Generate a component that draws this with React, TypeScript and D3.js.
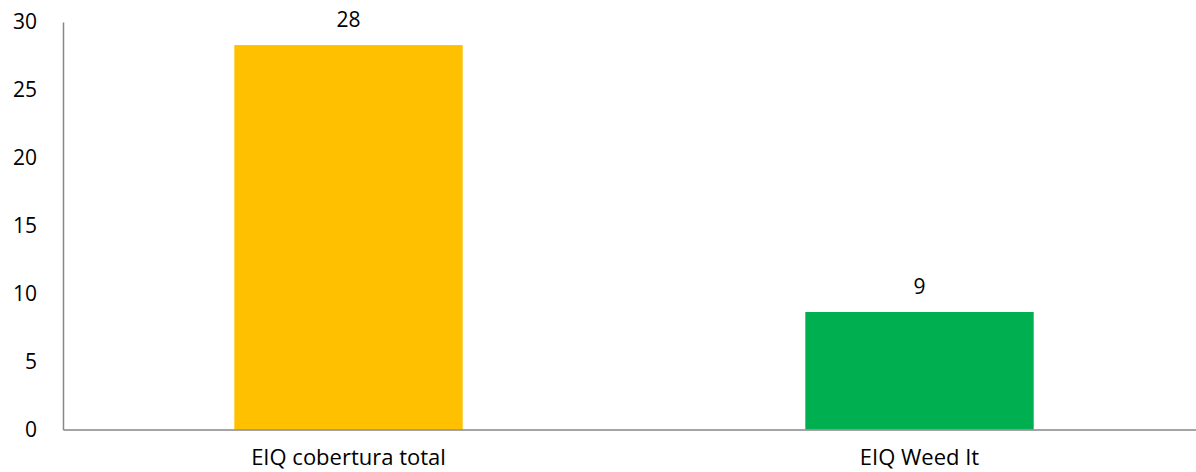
import React, { useRef, useEffect } from 'react';
import * as d3 from 'd3';

const categories = ['EIQ cobertura total', 'EIQ Weed It'];
const values = [28.3, 8.65];
const valueLabels = ['28', '9'];
const colors = ['#FFC000', '#00B050'];
const yTicks = [0, 5, 10, 15, 20, 25, 30];

const W = 1196;
const H = 472;
const margin = { top: 22, right: -9, bottom: 42.5, left: 63 };
const FONT = "'Open Sans', sans-serif";

const App = () => {
    const svgRef = useRef<SVGSVGElement>(null);

    useEffect(() => {
        const svg = d3.select(svgRef.current);
        svg.selectAll('*').remove();

        const innerW = W - margin.left - margin.right;
        const innerH = H - margin.top - margin.bottom;

        const x = d3
            .scaleBand()
            .domain(categories)
            .range([0, innerW])
            .paddingInner(0.6)
            .paddingOuter(0.3);

        const y = d3.scaleLinear().domain([0, 30]).range([innerH, 0]);

        const g = svg
            .append('g')
            .attr('transform', `translate(${margin.left}, ${margin.top})`);

        // bars
        g.selectAll('.bar')
            .data(categories)
            .enter()
            .append('rect')
            .attr('x', (d) => x(d)!)
            .attr('y', (d, i) => y(values[i]))
            .attr('width', x.bandwidth())
            .attr('height', (d, i) => innerH - y(values[i]))
            .attr('fill', (d, i) => colors[i]);

        // value labels
        g.selectAll('.val')
            .data(categories)
            .enter()
            .append('text')
            .attr('x', (d) => x(d)! + x.bandwidth() / 2)
            .attr('y', (d, i) => y(values[i]) - 18)
            .attr('text-anchor', 'middle')
            .style('font-family', FONT)
            .style('font-size', '21px')
            .attr('fill', '#000')
            .text((d, i) => valueLabels[i]);

        // y axis
        const yAxis = g.append('g').call(d3.axisLeft(y).tickValues(yTicks).tickSize(0).tickPadding(26));
        yAxis.select('.domain').attr('stroke', '#868686').attr('stroke-width', 1.5);
        yAxis
            .selectAll('text')
            .style('font-family', FONT)
            .style('font-size', '21px')
            .attr('fill', '#000');

        // x axis
        const xAxis = g
            .append('g')
            .attr('transform', `translate(0, ${innerH})`)
            .call(d3.axisBottom(x).tickSize(0).tickPadding(20));
        xAxis.select('.domain').attr('stroke', '#868686').attr('stroke-width', 1.5);
        xAxis
            .selectAll('text')
            .style('font-family', FONT)
            .style('font-size', '22px')
            .attr('fill', '#000');
    }, []);

    return (
        <div style={{ position: 'absolute', left: 0, top: 0 }}>
            <svg ref={svgRef} width={W} height={H} style={{ display: 'block' }}></svg>
        </div>
    );
};

export default App;
